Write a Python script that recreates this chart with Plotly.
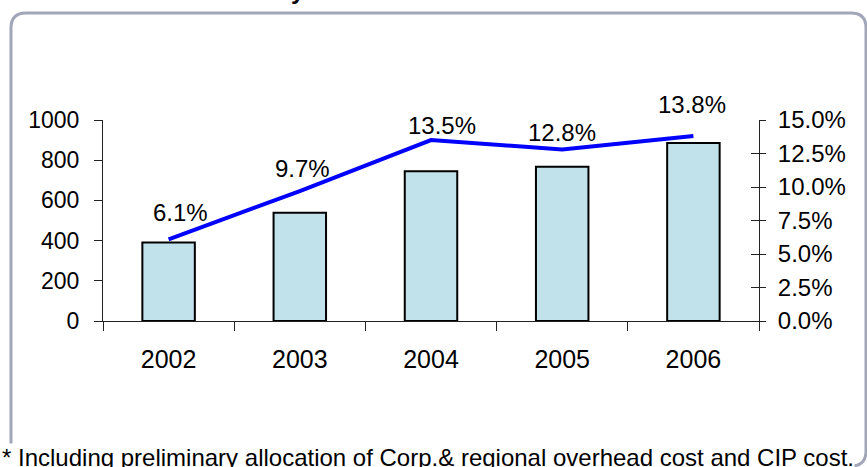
import plotly.graph_objects as go

# ---- data ----
years = ["2002", "2003", "2004", "2005", "2006"]
values = [390, 539, 745, 768, 886]
margins_pct = [0.061, 0.097, 0.135, 0.128, 0.138]
pct_labels = ["6.1%", "9.7%", "13.5%", "12.8%", "13.8%"]
footnote = "* Including preliminary allocation of Corp.& regional overhead cost and CIP cost."

# ---- styling / layout geometry ----
W, H = 867, 467
L, R, T, B = 103, 108, 120, 146
PW, PH = W - L - R, H - T - B
FONT = "Liberation Sans, Arial, sans-serif"
label_xshift = [12, 3, 11, 0, -1]
label_yshift = [27, 23, 15, 17, 32]


def px(x):
    return (x - L) / PW


def py(y):
    return (H - B - y) / PH


fig = go.Figure()
fig.add_trace(go.Bar(
    x=years, y=values, width=0.4,
    marker=dict(color="#C1E2EA", line=dict(color="#000000", width=2)),
    yaxis="y", showlegend=False, hoverinfo="skip",
))
fig.add_trace(go.Scatter(
    x=years, y=margins_pct, mode="lines",
    line=dict(color="#0000FF", width=4),
    yaxis="y2", showlegend=False, hoverinfo="skip",
))
# invisible trace for the crossing-tick helper axis
fig.add_trace(go.Scatter(x=years, y=margins_pct, mode="lines", yaxis="y3",
                         line=dict(width=0), showlegend=False, hoverinfo="skip"))

annotations = []
for i, (v, t, dx, dy) in enumerate(zip(margins_pct, pct_labels, label_xshift, label_yshift)):
    annotations.append(dict(x=i, y=v, xref="x", yref="y2", text=t, showarrow=False,
                            xanchor="center", yanchor="middle", xshift=dx, yshift=dy,
                            font=dict(family=FONT, size=24, color="#000")))

annotations.append(dict(x=px(1), y=py(457), xref="paper", yref="paper", text=footnote,
                        showarrow=False, xanchor="left", yanchor="middle",
                        bgcolor="#FFFFFF", borderpad=0,
                        font=dict(family=FONT, size=24, color="#000")))
annotations.append(dict(x=px(298), y=py(-9), xref="paper", yref="paper", text="<b>y</b>",
                        showarrow=False, xanchor="center", yanchor="middle",
                        font=dict(family=FONT, size=24, color="#000")))

# rounded border
x0, y0, x1, y1, r = 11, 13, 866, 466, 15
path = (f"M {px(x0)},{py(y0 + r)} "
        f"Q {px(x0)},{py(y0)} {px(x0 + r)},{py(y0)} "
        f"L {px(x1 - r)},{py(y0)} "
        f"Q {px(x1)},{py(y0)} {px(x1)},{py(y0 + r)} "
        f"L {px(x1)},{py(y1 - r)} "
        f"Q {px(x1)},{py(y1)} {px(x1 - r)},{py(y1)} "
        f"L {px(x0 + r)},{py(y1)} "
        f"Q {px(x0)},{py(y1)} {px(x0)},{py(y1 - r)} Z")

fig.update_layout(
    width=W, height=H,
    margin=dict(l=L, r=R, t=T, b=B, pad=0),
    paper_bgcolor="#FFFFFF", plot_bgcolor="rgba(0,0,0,0)",
    font=dict(family=FONT, color="#000"),
    showlegend=False,
    xaxis=dict(type="category", range=[-0.5, 4.5], tickson="boundaries", ticks="outside",
               ticklen=9, tickcolor="#222", showline=True, linecolor="#222", linewidth=1,
               showgrid=False, zeroline=False, tickfont=dict(size=25),
               ticklabelstandoff=16, automargin=False, tickangle=0),
    yaxis=dict(range=[0, 1000], dtick=200, ticks="outside", ticklen=8, tickcolor="#222",
               showline=True, linecolor="#222", linewidth=1, showgrid=False,
               zeroline=False, tickfont=dict(size=23), ticklabelstandoff=10,
               automargin=False),
    yaxis2=dict(range=[0, 0.15], dtick=0.025, tickformat=".1%", side="right",
                overlaying="y", anchor="x", ticks="outside", ticklen=6, tickcolor="#222",
                showline=True, linecolor="#222", linewidth=1, showgrid=False,
                zeroline=False, tickfont=dict(size=24), ticklabelstandoff=7,
                automargin=False),
    yaxis3=dict(range=[0, 0.15], dtick=0.025, side="right", overlaying="y", anchor="x",
                ticks="inside", ticklen=8, tickcolor="#222", showline=False,
                showticklabels=False, showgrid=False, zeroline=False, automargin=False),
    annotations=annotations,
    shapes=[dict(type="path", path=path, xref="paper", yref="paper",
                 line=dict(color="#A2A6B9", width=3), fillcolor="rgba(0,0,0,0)",
                 layer="below")],
)

fig.write_html("out.html", config={"displayModeBar": False},
               post_script="document.body.style.margin='0';document.body.style.overflow='hidden';")
